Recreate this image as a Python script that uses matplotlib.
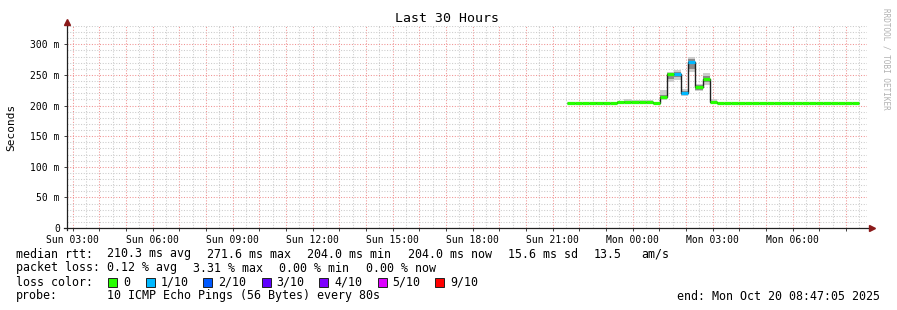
import numpy as np
import pandas as pd
import matplotlib
matplotlib.use('Agg')
import matplotlib.pyplot as plt
import matplotlib.dates as mdates
from matplotlib.ticker import FuncFormatter, MultipleLocator

plt.rcParams['font.family'] = 'DejaVu Sans Mono'

# time window of the graph
t_start = pd.Timestamp('2025-10-19 02:47:05')
t_end = pd.Timestamp('2025-10-20 08:47:05')
data_start = pd.Timestamp('2025-10-19 21:33:00')
step_minutes = 16

# median rtt per 16 min step (ms)
median = [204.0, 204.0, 204.0, 204.0, 205.0, 205.0, 204.0, 205.5, 205.5, 205.5,
          205.5, 205.5, 204.0, 214.5, 251.0, 252.0, 221.0, 271.6, 230.0, 244.0,
          206.5, 204.0, 204.0, 204.0, 204.0, 204.0, 204.0, 204.0, 204.0, 204.0,
          204.0, 204.0, 204.0, 204.0, 204.0, 204.0, 204.0, 204.0, 204.0, 204.0,
          204.0]
# packet loss per step (%)
loss = [0, 0, 0, 0, 0, 0, 0, 0, 0, 0,
        0, 0, 0, 0, 0, 0.83, 0.83, 3.31, 0, 0,
        0, 0, 0, 0, 0, 0, 0, 0, 0, 0,
        0, 0, 0, 0, 0, 0, 0, 0, 0, 0,
        0]
# smoke: outer spread of the pings (ms)
smoke_lo = [204.0, 204.0, 204.0, 204.0, 204.0, 204.0, 204.0, 204.0, 204.0, 204.0,
            204.0, 204.0, 203.5, 209.0, 239.0, 242.0, 216.0, 255.0, 223.0, 234.0,
            204.0, 204.0, 204.0, 204.0, 204.0, 204.0, 204.0, 204.0, 204.0, 204.0,
            204.0, 204.0, 204.0, 204.0, 204.0, 204.0, 204.0, 204.0, 204.0, 204.0,
            204.0]
smoke_hi = [205.0, 205.0, 205.0, 205.0, 206.5, 206.5, 205.0, 208.0, 211.0, 209.0,
            208.5, 208.5, 206.0, 225.0, 255.0, 258.0, 227.0, 280.0, 236.0, 253.0,
            210.0, 205.0, 205.0, 205.0, 205.0, 205.0, 205.0, 205.0, 205.0, 205.0,
            205.0, 205.0, 205.0, 205.0, 205.0, 205.0, 205.0, 205.0, 205.0, 205.0,
            205.0]
# smoke: inner (denser) spread
inner_lo = [204.0, 204.0, 204.0, 204.0, 204.5, 204.5, 204.0, 205.0, 205.0, 205.0,
            205.0, 205.0, 204.0, 211.0, 244.0, 246.0, 218.0, 260.0, 226.0, 238.0,
            205.0, 204.0, 204.0, 204.0, 204.0, 204.0, 204.0, 204.0, 204.0, 204.0,
            204.0, 204.0, 204.0, 204.0, 204.0, 204.0, 204.0, 204.0, 204.0, 204.0,
            204.0]
inner_hi = [204.5, 204.5, 204.5, 204.5, 205.5, 205.5, 204.5, 206.5, 207.0, 206.5,
            206.5, 206.5, 205.0, 218.0, 253.0, 255.0, 224.0, 276.0, 233.0, 248.0,
            208.0, 204.5, 204.5, 204.5, 204.5, 204.5, 204.5, 204.5, 204.5, 204.5,
            204.5, 204.5, 204.5, 204.5, 204.5, 204.5, 204.5, 204.5, 204.5, 204.5,
            204.5]

loss_labels = ['0', '1/10', '2/10', '3/10', '4/10', '5/10', '9/10']
loss_colors = ['#26ff00', '#00b8ff', '#0059ff', '#5e00ff', '#7e00ff', '#dd00ff', '#ff0000']

median_stats = ['210.3 ms avg', '271.6 ms max', '204.0 ms min', '204.0 ms now',
                '15.6 ms sd', '13.5', 'am/s']
loss_stats = ['0.12 % avg', '3.31 % max', '0.00 % min', '0.00 % now']


def loss_color(pct):
    if pct <= 0:
        return loss_colors[0]
    n = pct / 10.0
    for lab, col in zip(loss_labels[1:], loss_colors[1:]):
        if n <= float(lab.split('/')[0]):
            return col
    return loss_colors[-1]


W, H = 897, 310
fig = plt.figure(figsize=(W / 100, H / 100), dpi=100)
fig.patch.set_facecolor('white')
ax = fig.add_axes([67 / W, 82 / H, 800 / W, 202 / H])

edges = pd.date_range(data_start, periods=len(median) + 1, freq='%dmin' % step_minutes)
e = mdates.date2num(edges.to_pydatetime())

ax.stairs(smoke_hi, e, baseline=smoke_lo, fill=True, color='#cdcdcd', lw=0, zorder=2)
ax.stairs(inner_hi, e, baseline=inner_lo, fill=True, color='#8a8a8a', lw=0, zorder=3)
ax.stairs(median, e, baseline=None, color='#202020', lw=1.0, zorder=4)
ax.hlines(median, e[:-1], e[1:], colors=[loss_color(p) for p in loss], lw=2.3, zorder=5)

ax.set_xlim(mdates.date2num(t_start), mdates.date2num(t_end))
ax.set_ylim(0, 330)

# grid
ax.xaxis.set_major_locator(mdates.HourLocator())
ax.xaxis.set_minor_locator(mdates.MinuteLocator(byminute=[30]))
ax.xaxis.set_major_formatter(FuncFormatter(
    lambda v, p: mdates.num2date(v).strftime('%a %H:%M') if mdates.num2date(v).hour % 3 == 0 else ''))
ax.yaxis.set_major_locator(MultipleLocator(50))
ax.yaxis.set_minor_locator(MultipleLocator(10))
ax.yaxis.set_major_formatter(FuncFormatter(lambda v, p: '0' if v == 0 else '%d m' % v))

dot = (0, (1, 1.6))
ax.grid(which='minor', color='#cbcbcb', lw=0.75, linestyle=dot)
ax.grid(which='major', color='#f09292', lw=0.75, linestyle=dot)
ax.set_axisbelow(True)

ax.tick_params(which='major', length=2.2, width=0.7, color='#404040', labelsize=7, pad=2.5)
ax.tick_params(which='minor', length=0)
ax.tick_params(axis='y', pad=3)
for sp in ax.spines.values():
    sp.set_visible(False)

# axes with arrows
ax.plot([-0.004, 1.004], [0, 0], transform=ax.transAxes, color='#202020', lw=0.9, clip_on=False, zorder=6)
ax.plot([0, 0], [-0.01, 1.02], transform=ax.transAxes, color='#202020', lw=0.9, clip_on=False, zorder=6)
ax.plot([1.006], [0], marker='>', ms=4, color='#8b1a1a', transform=ax.transAxes, clip_on=False, zorder=7)
ax.plot([0], [1.02], marker='^', ms=4, color='#8b1a1a', transform=ax.transAxes, clip_on=False, zorder=7)

# title and labels
fig.text(447 / W, 1 - 19 / H, 'Last 30 Hours', ha='center', va='center', fontsize=9.5)
fig.text(11 / W, 1 - 127 / H, 'Seconds', rotation=90, ha='center', va='center', fontsize=8)
fig.text(886 / W, 1 - 59 / H, 'RRDTOOL / TOBI OETIKER', rotation=270, ha='center', va='center',
         fontsize=5.5, color='#b0b0b0')

fs = 8.4
fig.text(16 / W, 1 - 254 / H, 'median rtt:', va='center', fontsize=fs)
for x, s in zip([107, 207, 307, 408, 508, 594, 641], median_stats):
    fig.text(x / W, 1 - 254 / H, s, va='center', fontsize=fs)

fig.text(16 / W, 1 - 268 / H, 'packet loss:', va='center', fontsize=fs)
for x, s in zip([107, 193, 279, 366], loss_stats):
    fig.text(x / W, 1 - 268 / H, s, va='center', fontsize=fs)

fig.text(16 / W, 1 - 282 / H, 'loss color:', va='center', fontsize=fs)
box_x = [108, 145.5, 203, 261.5, 319, 377.5, 435]
for bx, lab, col in zip(box_x, loss_labels, loss_colors):
    fig.patches.append(plt.Rectangle((bx / W, (H - 282 - 4.5) / H), 9 / W, 9 / H,
                                     transform=fig.transFigure, facecolor=col,
                                     edgecolor='#202020', lw=0.7))
    fig.text((bx + 15) / W, 1 - 282 / H, lab, va='center', fontsize=fs)

fig.text(16 / W, 1 - 296 / H, 'probe:', va='center', fontsize=fs)
fig.text(107 / W, 1 - 296 / H, '10 ICMP Echo Pings (56 Bytes) every 80s', va='center', fontsize=fs)
fig.text(880 / W, 1 - 296 / H, 'end: Mon Oct 20 08:47:05 2025', ha='right', va='center', fontsize=fs)

fig.savefig('out.png', dpi=100, facecolor='white')
